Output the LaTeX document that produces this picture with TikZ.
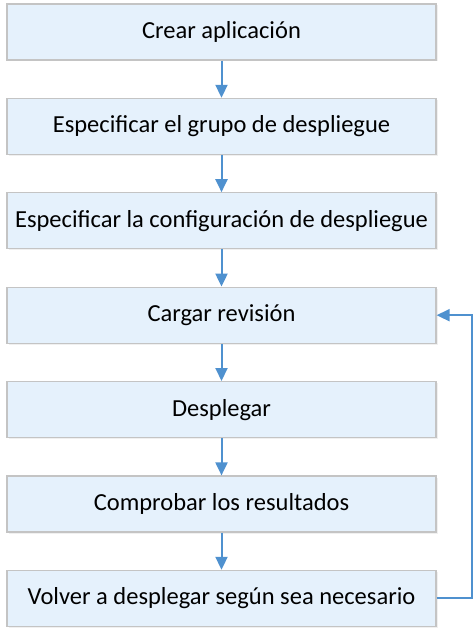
\documentclass[tikz,border=0pt]{standalone}
\usepackage{fontspec}
\setmainfont{Carlito}
\usepackage{tikz}
\usetikzlibrary{positioning,shadows,arrows.meta}

\definecolor{boxfill}{HTML}{E5F1FC}
\definecolor{boxline}{HTML}{C4C4C4}
\definecolor{arrowblue}{HTML}{4F91CF}

\begin{document}
\begin{tikzpicture}[x=1pt,y=1pt,
        stepbox/.style={draw=boxline,fill=boxfill,line width=1.2pt,minimum width=429pt,minimum height=56pt,
            inner sep=0pt,font=\fontsize{24.5}{29}\selectfont,
            drop shadow={opacity=0.12,shadow xshift=1.5pt,shadow yshift=-1.5pt}},
        flow/.style={arrowblue,line width=2pt,-{Triangle[length=13pt,width=12pt]}}]
    \useasboundingbox (0,0) rectangle (475,-631);
    \node[stepbox] (crear) at (221.5,-32) {Crear aplicación};
    \node[stepbox,below=37.2pt of crear] (grupo) {Especificar el grupo de despliegue};
    \node[stepbox,below=37.2pt of grupo] (config) {Especificar la configuración de despliegue};
    \node[stepbox,below=37.2pt of config] (cargar) {Cargar revisión};
    \node[stepbox,below=37.2pt of cargar] (desplegar) {Desplegar};
    \node[stepbox,below=37.2pt of desplegar] (comprobar) {Comprobar los resultados};
    \node[stepbox,below=37.2pt of comprobar] (volver) {Volver a desplegar según sea necesario};
    \foreach \a/\b in {crear/grupo,grupo/config,config/cargar,cargar/desplegar,desplegar/comprobar,comprobar/volver}
        \draw[flow] (\a.south) -- (\b.north);
    \coordinate (vuelta) at (472,0);
    \draw[flow] (volver.east) -- (volver.east -| vuelta) -- (cargar.east -| vuelta) -- (cargar.east);
\end{tikzpicture}
\end{document}
